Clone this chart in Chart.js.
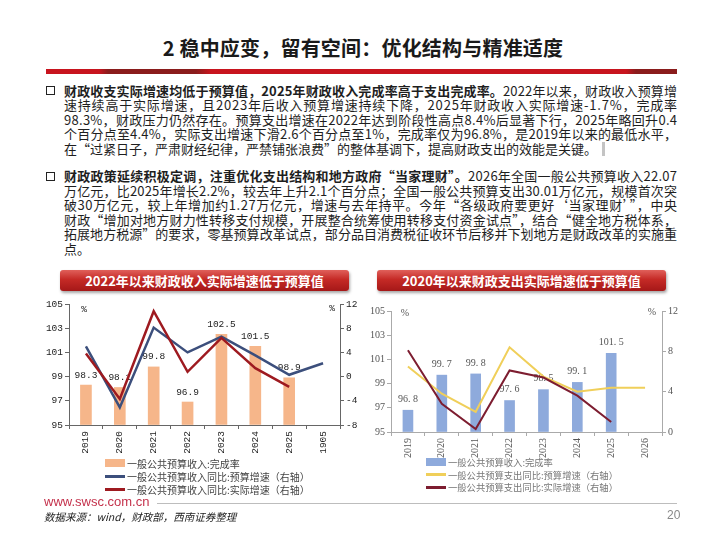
<!DOCTYPE html>
<html lang="zh-CN">
<head>
<meta charset="utf-8">
<title>稳中应变，留有空间：优化结构与精准适度</title>
<script src="https://cdn.jsdelivr.net/npm/chart.js@4.4.1/dist/chart.umd.min.js"></script>
<style>
  html, body { margin: 0; padding: 0; background: #fff; }
  #page { position: relative; width: 720px; height: 540px; overflow: hidden; background: #fff;
          font-family: "Noto Sans CJK SC", sans-serif; color: #1e1e1e; }
  .title { position: absolute; top: 34px; left: 3px; width: 720px; text-align: center;
           font-size: 20px; font-weight: 700; color: #1a1a1a; line-height: 28px; letter-spacing: 0.2px; }
  .rule { position: absolute; left: 46px; top: 69px; width: 631px; height: 5px;
          background: linear-gradient(to right, #c8141e 0, #c8141e 53px, #8a1c1c 62px, #8a1c1c 150px,
                      #c8141e 165px, #c8141e 580px, #8a1c1c 590px, #8a1c1c 631px); }
  .bullet { position: absolute; left: 46px; width: 7px; height: 7px; border: 1.5px solid #222; }
  .para { position: absolute; left: 64px; width: 613px; font-size: 13px; }
  .para .ln { height: 14.6px; line-height: 14.6px; white-space: nowrap; }
  .para b { font-weight: 700; }
  .cursor { display: inline-block; width: 3px; height: 14px; background: #c4c4c4;
            vertical-align: -2px; margin-left: 5px; }
  .boxTitle { position: absolute; top: 270px; width: 289px; height: 21px; line-height: 21px;
              text-align: center; color: #fff; font-weight: 700; font-size: 13px; border-radius: 3px;
              background: linear-gradient(to bottom, #e0605a 0%, #c52a26 45%, #a51818 100%);
              box-shadow: 1px 2px 3px rgba(0,0,0,0.35); }
  canvas { position: absolute; }
  #revChart { left: 0; top: 290px; }
  #expChart { left: 360px; top: 296px; }
  .legend { position: absolute; }
  .legend .row { display: flex; align-items: center; white-space: nowrap; }
  .legend .sw { width: 20px; margin-right: 2px; }
  #revLegend { left: 105px; top: 456.5px; font-size: 10px; color: #444; }
  #revLegend .row { height: 13px; }
  #expLegend { left: 426px; top: 456px; font-size: 9.3px; color: #777; }
  #expLegend .row { height: 12.5px; }
  .site { position: absolute; left: 44px; top: 494px; font-family: "Liberation Sans", Arial, sans-serif;
          font-size: 13px; color: #c4314b; line-height: 16px; }
  .footLine { position: absolute; left: 157px; top: 503px; width: 520px; height: 1px; background: #bdbdbd; }
  .source { position: absolute; left: 44px; top: 510px; font-size: 10.5px; font-style: italic;
            color: #222; line-height: 14px; }
  .pageNo { position: absolute; left: 667px; top: 508px; font-family: "Liberation Sans", sans-serif;
            font-size: 12px; color: #888; }
</style>
</head>
<body>
<div id="page">
  <div class="title">2 稳中应变，留有空间：优化结构与精准适度</div>
  <div class="rule"></div>

  <div class="bullet" style="top:86px"></div>
  <div class="para" style="top:83.5px">
    <div class="ln fit"><span><b>财政收支实际增速均低于预算值，2025年财政收入完成率高于支出完成率。</b>2022年以来，财政收入预算增</span></div>
    <div class="ln fit"><span>速持续高于实际增速，且2023年后收入预算增速持续下降，2025年财政收入实际增速-1.7%，完成率</span></div>
    <div class="ln fit"><span>98.3%，财政压力仍然存在。预算支出增速在2022年达到阶段性高点8.4%后显著下行，2025年略回升0.4</span></div>
    <div class="ln fit"><span>个百分点至4.4%，实际支出增速下滑2.6个百分点至1%，完成率仅为96.8%，是2019年以来的最低水平，</span></div>
    <div class="ln"><span>在“过紧日子，严肃财经纪律，严禁铺张浪费”的整体基调下，提高财政支出的效能是关键。</span><i class="cursor"></i></div>
  </div>

  <div class="bullet" style="top:171.5px"></div>
  <div class="para" style="top:169px">
    <div class="ln fit"><span><b>财政政策延续积极定调，注重优化支出结构和地方政府“当家理财”。</b>2026年全国一般公共预算收入22.07</span></div>
    <div class="ln fit"><span>万亿元，比2025年增长2.2%，较去年上升2.1个百分点；全国一般公共预算支出30.01万亿元，规模首次突</span></div>
    <div class="ln fit"><span>破30万亿元，较上年增加约1.27万亿元，增速与去年持平。今年“各级政府要更好‘当家理财’”，中央</span></div>
    <div class="ln fit"><span>财政“增加对地方财力性转移支付规模，开展整合统筹使用转移支付资金试点”，结合“健全地方税体系，</span></div>
    <div class="ln fit"><span>拓展地方税源”的要求，零基预算改革试点，部分品目消费税征收环节后移并下划地方是财政改革的实施重</span></div>
    <div class="ln"><span>点。</span></div>
  </div>

  <div class="boxTitle" style="left:60px">2022年以来财政收入实际增速低于预算值</div>
  <div class="boxTitle" style="left:377px">2020年以来财政支出实际增速低于预算值</div>

  <canvas id="revChart" width="360" height="170"></canvas>
  <canvas id="expChart" width="360" height="168"></canvas>
  <div id="revLegend" class="legend"></div>
  <div id="expLegend" class="legend"></div>

  <div class="site">www.swsc.com.cn</div>
  <div class="footLine"></div>
  <div class="source">数据来源：wind，财政部，西南证券整理</div>
  <div class="pageNo">20</div>
</div>

<script>
// Revenue chart (left)
const revYears = ['2019', '2020', '2021', '2022', '2023', '2024', '2025', '1905'];
const revCompletion = [98.3, 98.1, 99.8, 96.9, 102.5, 101.5, 98.9, null];
const revBudgetGrowth = [5.0, -5.1, 8.1, 4.0, 6.6, 3.5, 0.3, 2.2];
const revActualGrowth = [3.8, -3.7, 10.8, 0.8, 6.4, 1.4, -1.7, null];
const revLeftTicks = [95, 97, 99, 101, 103, 105];
const revRightTicks = [-8, -4, 0, 4, 8, 12];
const revLabels = ['一般公共预算收入:完成率', '一般公共预算收入同比:预算增速（右轴）', '一般公共预算收入同比:实际增速（右轴）'];

// Expenditure chart (right)
const expYears = ['2019', '2020', '2021', '2022', '2023', '2024', '2025', '2026'];
const expCompletion = [96.8, 99.7, 99.8, 97.6, 98.5, 99.1, 101.5, null];
const expBudgetGrowth = [6.5, 3.8, 2.0, 8.4, 5.5, 4.0, 4.4, 4.4];
const expActualGrowth = [8.1, 2.8, 0.3, 6.1, 5.4, 3.6, 1.0, null];
const expLeftTicks = [95, 97, 99, 101, 103, 105];
const expRightTicks = [0, 4, 8, 12];
const expLabels = ['一般公共预算收入:完成率', '一般公共预算支出同比:预算增速（右轴）', '一般公共预算支出同比:实际增速（右轴）'];

// stretch each full text line to the column width
document.querySelectorAll('.fit').forEach(function (ln) {
    const span = ln.querySelector('span');
    const w = span.getBoundingClientRect().width;
    const n = span.textContent.length;
    span.style.letterSpacing = ((613 - w) / (n - 1)) + 'px';
});

// value labels above bars, drawn before the lines; plus the "%" unit marks
const barExtras = {
    id: 'barExtras',
    afterDatasetDraw(chart, args, opts) {
        if (args.meta.type !== 'bar') return;
        const ctx = chart.ctx;
        const values = chart.data.datasets[args.index].data;
        ctx.save();
        ctx.font = opts.font;
        ctx.fillStyle = opts.color;
        ctx.textAlign = 'center';
        ctx.textBaseline = 'middle';
        args.meta.data.forEach(function (bar, i) {
            if (values[i] == null) return;
            ctx.fillText(values[i].toFixed(1).replace('.', opts.sep), bar.x, bar.y - opts.gap);
        });
        ctx.restore();
    },
    afterDraw(chart, args, opts) {
        const ctx = chart.ctx, a = chart.chartArea;
        ctx.save();
        ctx.font = opts.font;
        ctx.fillStyle = opts.color;
        ctx.textAlign = 'center';
        ctx.textBaseline = 'middle';
        ctx.fillText('%', a.left + opts.unitLeft[0], a.top + opts.unitLeft[1]);
        ctx.fillText('%', a.right + opts.unitRight[0], a.top + opts.unitRight[1]);
        ctx.restore();
    }
};

function axisY(pos, ticks, width, font, color, lineColor) {
    return {
        position: pos,
        min: ticks[0],
        max: ticks[ticks.length - 1],
        afterBuildTicks: function (s) { s.ticks = ticks.map(function (v) { return { value: v }; }); },
        afterFit: function (s) { s.width = width; },
        grid: { drawOnChartArea: false, tickLength: 4, color: lineColor },
        border: { color: lineColor },
        ticks: { font: font, color: color, padding: 2 }
    };
}

function axisX(height, font, color, lineColor) {
    return {
        offset: true,
        afterFit: function (s) { s.height = height; },
        grid: { drawOnChartArea: false, offset: true, tickLength: 4, color: lineColor },
        border: { color: lineColor },
        ticks: { font: font, color: color, minRotation: 90, maxRotation: 90, autoSkip: false, padding: 2 }
    };
}

const monoFont = { family: 'Liberation Mono', size: 9.5 };
const serifFont = { family: 'Liberation Serif', size: 10 };

const revChart = new Chart(document.getElementById('revChart'), {
    type: 'bar',
    data: {
        labels: revYears,
        datasets: [
            { type: 'bar', label: revLabels[0], data: revCompletion, backgroundColor: '#f6b68a',
              barThickness: 11, base: 95, yAxisID: 'y', order: 3 },
            { type: 'line', label: revLabels[1], data: revBudgetGrowth, borderColor: '#3c4f7c',
              borderWidth: 2.5, pointRadius: 0, tension: 0, yAxisID: 'y1', order: 2 },
            { type: 'line', label: revLabels[2], data: revActualGrowth, borderColor: '#9e1a20',
              borderWidth: 2.5, pointRadius: 0, tension: 0, yAxisID: 'y1', order: 1 }
        ]
    },
    options: {
        responsive: false,
        animation: false,
        events: [],
        layout: { padding: { top: 14, left: 0, right: 0, bottom: 0 } },
        plugins: {
            legend: { display: false },
            tooltip: { enabled: false },
            barExtras: { font: '9.5px "Liberation Mono"', color: '#222', gap: 10, sep: '.',
                         unitLeft: [15, 5], unitRight: [-8, 4] }
        },
        scales: {
            x: axisX(35, monoFont, '#222', '#666'),
            y: axisY('left', revLeftTicks, 69, monoFont, '#222', '#666'),
            y1: axisY('right', revRightTicks, 20, monoFont, '#222', '#666')
        }
    },
    plugins: [barExtras]
});

const expChart = new Chart(document.getElementById('expChart'), {
    type: 'bar',
    data: {
        labels: expYears,
        datasets: [
            { type: 'bar', label: expLabels[0], data: expCompletion, backgroundColor: '#8eaadc',
              barThickness: 10, base: 95, yAxisID: 'y', order: 3 },
            { type: 'line', label: expLabels[1], data: expBudgetGrowth, borderColor: '#f0cf5a',
              borderWidth: 2, pointRadius: 0, tension: 0, yAxisID: 'y1', order: 2 },
            { type: 'line', label: expLabels[2], data: expActualGrowth, borderColor: '#7d1d30',
              borderWidth: 2, pointRadius: 0, tension: 0, yAxisID: 'y1', order: 1 }
        ]
    },
    options: {
        responsive: false,
        animation: false,
        events: [],
        layout: { padding: { top: 15, left: 0, right: 0, bottom: 0 } },
        plugins: {
            legend: { display: false },
            tooltip: { enabled: false },
            barExtras: { font: '10px "Liberation Serif"', color: '#555', gap: 11, sep: '. ',
                         unitLeft: [14, 2], unitRight: [-10, 1] }
        },
        scales: {
            x: axisX(32, serifFont, '#555', '#aaa'),
            y: axisY('left', expLeftTicks, 31, serifFont, '#555', '#aaa'),
            y1: axisY('right', expRightTicks, 58, serifFont, '#555', '#aaa')
        }
    },
    plugins: [barExtras]
});

// html legends built from the chart datasets
function buildLegend(chart, id) {
    const box = document.getElementById(id);
    chart.data.datasets.forEach(function (ds) {
        const row = document.createElement('div');
        row.className = 'row';
        const sw = document.createElement('span');
        sw.className = 'sw';
        if (ds.type === 'bar') {
            sw.style.height = '8px';
            sw.style.background = ds.backgroundColor;
        } else {
            sw.style.height = '3px';
            sw.style.background = ds.borderColor;
        }
        const txt = document.createElement('span');
        txt.textContent = ds.label;
        row.appendChild(sw);
        row.appendChild(txt);
        box.appendChild(row);
    });
}
buildLegend(revChart, 'revLegend');
buildLegend(expChart, 'expLegend');
</script>
</body>
</html>
